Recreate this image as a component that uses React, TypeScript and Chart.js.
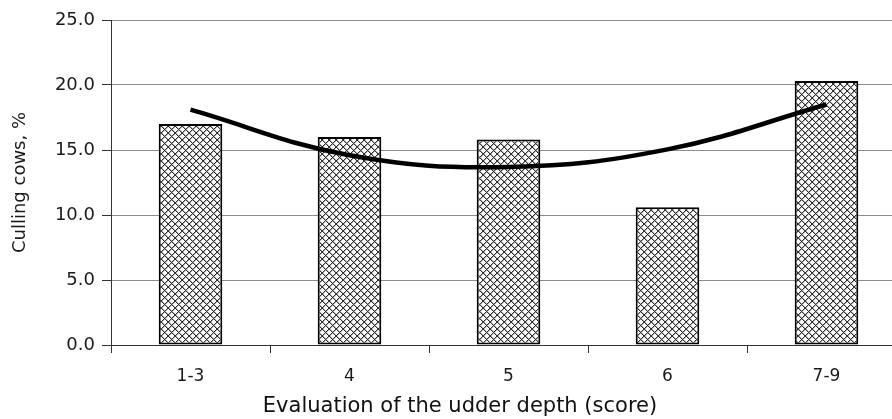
import React, { useEffect, useRef } from "react";
import { Chart, registerables } from "chart.js";

Chart.register(...registerables);

const categories = ["1-3", "4", "5", "6", "7-9"];
const cullingValues = [17.0, 16.0, 15.8, 10.6, 20.3];
const trendValues = [18.1, 14.6, 13.7, 15.05, 18.5];
const yTickMin = 0;
const yTickMax = 25;
const yTickStep = 5;
const xTitle = "Evaluation of the udder depth (score)";
const yTitle = "Culling cows, %";

function makeHatch(): CanvasPattern | string {
  const n = 7;
  const c = document.createElement("canvas");
  c.width = n;
  c.height = n;
  const ctx = c.getContext("2d");
  if (!ctx) return "#fff";
  ctx.fillStyle = "#ffffff";
  ctx.fillRect(0, 0, n, n);
  ctx.fillStyle = "#b0b0b0";
  for (let i = 0; i < n; i++) {
    ctx.fillRect((i + 1) % n, i, 1, 1);
    ctx.fillRect((n - 1 - i + 1) % n, i, 1, 1);
  }
  ctx.fillStyle = "#303030";
  for (let i = 0; i < n; i++) {
    ctx.fillRect(i, i, 1, 1);
    ctx.fillRect(n - 1 - i, i, 1, 1);
  }
  const p = ctx.createPattern(c, "repeat");
  return p || "#fff";
}

export default function App() {
  const ref = useRef<HTMLCanvasElement | null>(null);

  useEffect(() => {
    const canvas = ref.current;
    if (!canvas) return;
    const hatch = makeHatch();
    const font = "'DejaVu Sans', Verdana, sans-serif";
    const chart = new Chart(canvas, {
      type: "bar",
      data: {
        labels: categories,
        datasets: [
          {
            type: "line",
            data: trendValues,
            borderColor: "#000000",
            borderWidth: 4.5,
            pointRadius: 0,
            tension: 0.4,
            fill: false,
            order: 0,
          } as any,
          {
            type: "bar",
            data: cullingValues,
            backgroundColor: hatch as any,
            borderColor: "#000000",
            borderWidth: 2,
            borderSkipped: false,
            barPercentage: 0.4,
            categoryPercentage: 1,
            order: 1,
          },
        ],
      },
      options: {
        responsive: false,
        animation: false,
        devicePixelRatio: 1,
        layout: { padding: { top: 20, left: 14, right: 14, bottom: 0 } },
        plugins: {
          legend: { display: false },
          tooltip: { enabled: false },
          title: {
            display: true,
            position: "bottom",
            text: xTitle,
            color: "#111111",
            font: { family: font, size: 21, weight: "normal", lineHeight: 1 },
            padding: { top: 4, bottom: 2 },
          },
        },
        scales: {
          x: {
            grid: {
              display: true,
              drawOnChartArea: false,
              drawTicks: true,
              tickLength: 8,
              tickColor: "#333333",
              offset: true,
            },
            border: { display: true, color: "#333333", width: 1 },
            ticks: {
              color: "#1a1a1a",
              font: { family: font, size: 17 },
              padding: 13,
            },
            afterFit: (scale: any) => {
              scale.height = 47;
            },
          },
          y: {
            min: yTickMin,
            max: yTickMax,
            ticks: {
              stepSize: yTickStep,
              color: "#1a1a1a",
              font: { family: font, size: 18 },
              padding: 7,
              callback: (v: any) => Number(v).toFixed(1),
            },
            grid: {
              color: "#8c8c8c",
              lineWidth: 1,
              drawTicks: true,
              tickLength: 9,
              tickColor: "#333333",
            },
            border: { display: true, color: "#333333", width: 1 },
            title: {
              display: true,
              text: yTitle,
              color: "#1a1a1a",
              font: { family: font, size: 18 },
              padding: { top: -4, bottom: 4 },
            },
            afterFit: (scale: any) => {
              scale.width = 97;
            },
          },
        },
      },
    });
    return () => chart.destroy();
  }, []);

  return (
    <div
      style={{
        position: "fixed",
        left: 0,
        top: 0,
        width: 892,
        height: 419,
        overflow: "hidden",
        background: "#ffffff",
      }}
    >
      <canvas ref={ref} width={920} height={419} style={{ width: 920, height: 419 }} />
    </div>
  );
}
